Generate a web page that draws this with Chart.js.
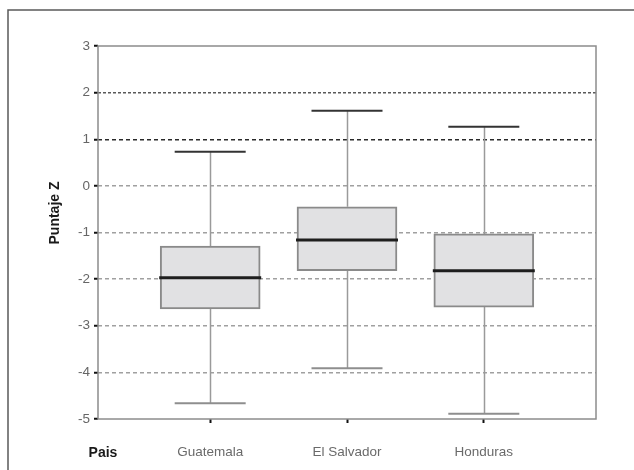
<!DOCTYPE html>
<html>
<head>
<meta charset="utf-8">
<script src="https://cdn.jsdelivr.net/npm/chart.js@4/dist/chart.umd.min.js"></script>
<style>
  html, body { margin: 0; padding: 0; background: #ffffff; }
  #c { display: block; }
</style>
</head>
<body>
<canvas id="c" width="634" height="470"></canvas>
<script>
// ---- Data ----
const categories = ["Guatemala", "El Salvador", "Honduras"];
const whiskerMax = [0.73, 1.61, 1.27];
const q3Values   = [-1.29, -0.45, -1.03];
const medians    = [-1.97, -1.16, -1.82];
const q1Values   = [-2.64, -1.82, -2.60];
const whiskerMin = [-4.66, -3.91, -4.89];
const yTicks     = [3, 2, 1, 0, -1, -2, -3, -4, -5];
const yAxisTitle = "Puntaje Z";
const xAxisTitle = "Pais";

const boxData = categories.map((c, i) => ({ x: i, y: [q1Values[i], q3Values[i]] }));

const framePlugin = {
  id: 'frame',
  beforeDraw(chart) {
    const ctx = chart.ctx;
    ctx.save();
    ctx.fillStyle = '#ffffff';
    ctx.fillRect(0, 0, chart.width, chart.height);
    ctx.strokeStyle = '#5a5a5a';
    ctx.lineWidth = 1.5;
    ctx.beginPath();
    ctx.moveTo(8, chart.height);
    ctx.lineTo(8, 10);
    ctx.lineTo(chart.width, 10);
    ctx.stroke();
    ctx.restore();
  },
  afterDraw(chart) {
    const ctx = chart.ctx;
    const a = chart.chartArea;
    ctx.save();
    ctx.strokeStyle = '#8c8c8c';
    ctx.lineWidth = 1.5;
    ctx.strokeRect(a.left, a.top, a.right - a.left, a.bottom - a.top);
    ctx.fillStyle = '#1a1a1a';
    ctx.font = 'bold 14px "Liberation Sans", Arial, sans-serif';
    ctx.textAlign = 'center';
    ctx.textBaseline = 'middle';
    ctx.translate(55, 213);
    ctx.rotate(-Math.PI / 2);
    ctx.fillText(yAxisTitle, 0, 0);
    ctx.restore();
    ctx.save();
    ctx.fillStyle = '#1a1a1a';
    ctx.font = 'bold 14px "Liberation Sans", Arial, sans-serif';
    ctx.textAlign = 'center';
    ctx.textBaseline = 'middle';
    ctx.fillText(xAxisTitle, 103, 453);
    ctx.restore();
  }
};

const boxPlugin = {
  id: 'boxparts',
  beforeDatasetsDraw(chart) {
    const ctx = chart.ctx;
    const xs = chart.scales.x, ys = chart.scales.y;
    ctx.save();
    ctx.strokeStyle = '#9a9a9a';
    ctx.lineWidth = 1.5;
    categories.forEach((c, i) => {
      const px = Math.round(xs.getPixelForValue(i)) + 0.5;
      ctx.beginPath();
      ctx.moveTo(px, ys.getPixelForValue(whiskerMax[i]));
      ctx.lineTo(px, ys.getPixelForValue(q3Values[i]));
      ctx.moveTo(px, ys.getPixelForValue(q1Values[i]));
      ctx.lineTo(px, ys.getPixelForValue(whiskerMin[i]));
      ctx.stroke();
    });
    ctx.restore();
  },
  afterDatasetsDraw(chart) {
    const ctx = chart.ctx;
    const xs = chart.scales.x, ys = chart.scales.y;
    const capHalf = 35.5, medHalf = 51;
    ctx.save();
    categories.forEach((c, i) => {
      const px = xs.getPixelForValue(i);
      ctx.strokeStyle = '#333333';
      ctx.lineWidth = 2;
      ctx.beginPath();
      const yt = ys.getPixelForValue(whiskerMax[i]);
      ctx.moveTo(px - capHalf, yt); ctx.lineTo(px + capHalf, yt);
      ctx.stroke();
      ctx.strokeStyle = '#8e8e8e';
      ctx.beginPath();
      const yb = ys.getPixelForValue(whiskerMin[i]);
      ctx.moveTo(px - capHalf, yb); ctx.lineTo(px + capHalf, yb);
      ctx.stroke();
      ctx.strokeStyle = '#1e1e1e';
      ctx.lineWidth = 3;
      ctx.beginPath();
      const ym = ys.getPixelForValue(medians[i]);
      ctx.moveTo(px - medHalf, ym); ctx.lineTo(px + medHalf, ym);
      ctx.stroke();
    });
    ctx.restore();
  }
};

new Chart(document.getElementById('c'), {
  type: 'bar',
  data: {
    datasets: [{
      data: boxData,
      backgroundColor: '#e1e1e3',
      borderColor: '#8a8a8a',
      borderWidth: 2,
      borderSkipped: false,
      barThickness: 100
    }]
  },
  options: {
    responsive: false,
    animation: false,
    devicePixelRatio: 1,
    layout: { padding: { left: 0, top: 46, right: 38, bottom: 0 } },
    plugins: { legend: { display: false }, tooltip: { enabled: false } },
    scales: {
      x: {
        type: 'linear',
        min: -0.82,
        max: 2.82,
        offset: false,
        afterBuildTicks(scale) { scale.ticks = categories.map((c, i) => ({ value: i })); },
        afterFit(scale) { scale.height = 51; },
        ticks: {
          callback: (v) => categories[v],
          color: '#6a6a6a',
          font: { family: '"Liberation Sans", Arial, sans-serif', size: 13.5 },
          padding: 21,
          maxRotation: 0,
          autoSkip: false
        },
        grid: { offset: false, drawOnChartArea: false, drawTicks: true, tickLength: 4, tickColor: '#111111', tickWidth: 2 },
        border: { display: false }
      },
      y: {
        min: -5,
        max: 3,
        afterBuildTicks(scale) { scale.ticks = yTicks.map(v => ({ value: v })); },
        afterFit(scale) { scale.width = 98; },
        ticks: {
          color: '#666666',
          font: { family: '"Liberation Sans", Arial, sans-serif', size: 13.5 },
          padding: 4
        },
        grid: {
          color: (ctx) => {
            const v = ctx.tick && ctx.tick.value;
            if (v === 3 || v === -5) return 'rgba(0,0,0,0)';
            if (v === 1) return '#2a2a2a';
            if (v === 2) return '#5a5a5a';
            return '#a0a0a0';
          },
          lineWidth: 1.5,
          drawTicks: true,
          tickLength: 4,
          tickColor: '#111111',
          tickWidth: 2
        },
        border: {
          display: false,
          dash: (ctx) => (ctx.tick && ctx.tick.value === 2) ? [3, 2] : [4, 3]
        }
      }
    }
  },
  plugins: [framePlugin, boxPlugin]
});
</script>
</body>
</html>
